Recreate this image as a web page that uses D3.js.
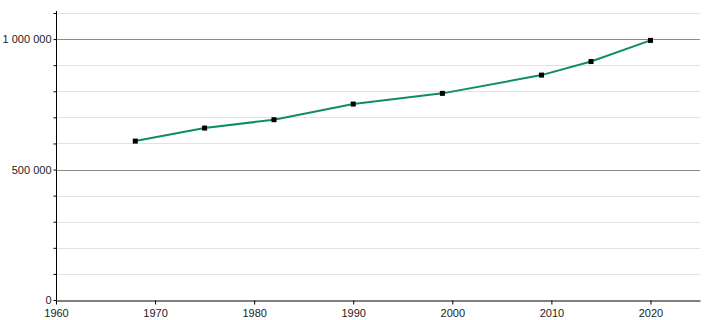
<!DOCTYPE html>
<html>
<head>
<meta charset="utf-8">
<script src="https://cdn.jsdelivr.net/npm/d3@7"></script>
<style>
  body { margin: 0; background: #fff; }
  text { font-family: "Liberation Sans", Arial, sans-serif; }
</style>
</head>
<body>
<div id="container"></div>
<script>
// data
let years = [1968, 1975, 1982, 1990, 1999, 2009, 2014, 2020];
let population = [609000, 659000, 691000, 751000, 792000, 862000, 914000, 995000];
let xTicks = [1960, 1970, 1980, 1990, 2000, 2010, 2020];
let yMajor = [0, 500000, 1000000];
let yMinor = [100000, 200000, 300000, 400000, 600000, 700000, 800000, 900000, 1100000];

let w = 710;
let h = 320;
let plotLeft = 56, plotRight = 700, plotTop = 13, plotBottom = 300;

let viz = d3.select("#container")
  .append("svg")
    .attr("width", w)
    .attr("height", h)
;

let x = d3.scaleLinear().domain([1960, 2025]).range([plotLeft, plotRight]);
let y = d3.scaleLinear().domain([0, 1100000]).range([plotBottom, plotTop]);

function fmt(v) {
  return d3.format(",")(v).replace(/,/g, " ");
}

// minor grid
viz.append("g").selectAll("line").data(yMinor).enter()
  .append("line")
    .attr("x1", plotLeft).attr("x2", plotRight)
    .attr("y1", d => Math.round(y(d)) + 0.5).attr("y2", d => Math.round(y(d)) + 0.5)
    .attr("stroke", "#e2e2e2")
    .attr("stroke-width", 1)
;
// major grid
viz.append("g").selectAll("line").data(yMajor.filter(d => d > 0)).enter()
  .append("line")
    .attr("x1", plotLeft).attr("x2", plotRight)
    .attr("y1", d => Math.round(y(d)) + 0.5).attr("y2", d => Math.round(y(d)) + 0.5)
    .attr("stroke", "#8a8a8a")
    .attr("stroke-width", 1)
;

// y axis
let yAxis = viz.append("g")
  .attr("transform", "translate(" + (plotLeft + 0.5) + ",0)")
  .call(d3.axisLeft(y).tickValues(yMajor.concat(yMinor)).tickSize(3).tickSizeOuter(0)
    .tickFormat(d => yMajor.includes(d) ? fmt(d) : ""));
yAxis.select(".domain").attr("d", "M0," + (plotTop - 2) + "V" + plotBottom).attr("stroke", "#000");
yAxis.selectAll("text").attr("font-size", 11).attr("fill", "#222").attr("x", -5)
  .style("font-family", "'Liberation Sans', Arial, sans-serif");

// x axis
let xAxis = viz.append("g")
  .attr("transform", "translate(0," + (plotBottom + 0.5) + ")")
  .call(d3.axisBottom(x).tickValues(xTicks).tickSize(4).tickSizeOuter(0).tickFormat(d3.format("d")));
xAxis.select(".domain").attr("stroke", "#000");
xAxis.selectAll("text").attr("font-size", 11).attr("fill", "#222").attr("y", 9)
  .style("font-family", "'Liberation Sans', Arial, sans-serif");

// line
let pts = years.map((yr, i) => [yr, population[i]]);
viz.append("path")
  .datum(pts)
  .attr("d", d3.line().x(d => x(d[0])).y(d => y(d[1])))
  .attr("fill", "none")
  .attr("stroke", "#0e8c6a")
  .attr("stroke-width", 2)
;

viz.append("g").selectAll("rect").data(pts).enter()
  .append("rect")
    .attr("x", d => x(d[0]) - 2.5)
    .attr("y", d => y(d[1]) - 2.5)
    .attr("width", 5)
    .attr("height", 5)
    .attr("fill", "#000")
;
</script>
</body>
</html>
